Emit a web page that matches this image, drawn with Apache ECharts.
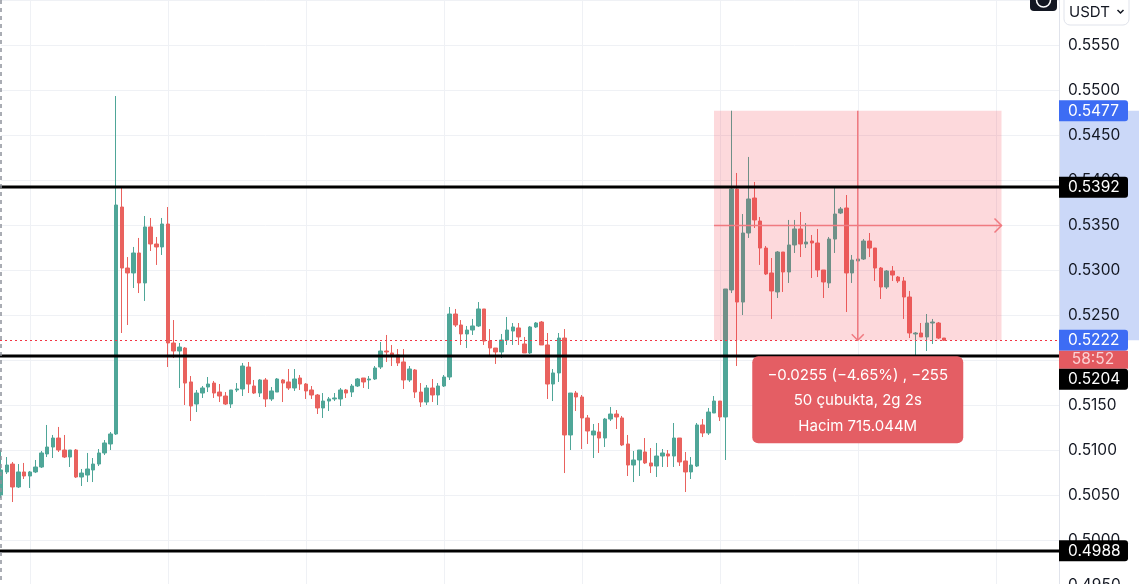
<!DOCTYPE html>
<html><head><meta charset="utf-8">
<script src="https://cdn.jsdelivr.net/npm/echarts/dist/echarts.min.js"></script>
<style>html,body{margin:0;padding:0;background:#fff;overflow:hidden}#c{width:1140px;height:584px}</style>
</head><body><div id="c"></div>
<script>
// ---- data (1h candles) ----
const opens = [0.5050,0.50756,0.50844,0.50589,0.50756,0.50711,0.50756,0.50811,0.50956,0.51033,0.51133,0.51,0.50922,0.51,0.507,0.50722,0.50778,0.50844,0.50967,0.51067,0.51178,0.537,0.53022,0.52967,0.53189,0.52856,0.53478,0.53289,0.53256,0.53511,0.52189,0.521,0.52133,0.51756,0.51511,0.51633,0.517,0.51744,0.51644,0.516,0.51511,0.51667,0.51678,0.51922,0.51711,0.51633,0.51778,0.51567,0.51644,0.51778,0.51756,0.51689,0.518,0.51733,0.51667,0.51611,0.51467,0.51544,0.51567,0.51567,0.51667,0.51644,0.51711,0.518,0.51778,0.51789,0.51922,0.521,0.52078,0.52056,0.51978,0.51778,0.51889,0.51644,0.51533,0.51689,0.51611,0.51711,0.51811,0.52511,0.52389,0.52289,0.52333,0.52378,0.52567,0.52211,0.52133,0.52089,0.52222,0.52322,0.52356,0.52178,0.52078,0.52367,0.52422,0.52167,0.51733,0.51856,0.52244,0.51167,0.51633,0.51589,0.51356,0.51167,0.512,0.51133,0.51344,0.514,0.51356,0.51067,0.50833,0.50889,0.50978,0.50856,0.50822,0.50933,0.50956,0.50933,0.51133,0.50878,0.50756,0.50822,0.51278,0.51189,0.51411,0.51544,0.51367,0.52778,0.539,0.52644,0.53411,0.538,0.53544,0.53244,0.52967,0.52756,0.532,0.52978,0.53278,0.53456,0.53289,0.53322,0.533,0.53,0.52856,0.53344,0.53633,0.53689,0.52967,0.531,0.53122,0.53322,0.53244,0.53022,0.52811,0.52989,0.52922,0.52878,0.527,0.52289,0.523,0.52256,0.52411,0.52411,0.52244];
const closes = [0.50778,0.50833,0.50589,0.50756,0.50711,0.50756,0.50811,0.50967,0.51033,0.51133,0.51,0.50922,0.51,0.507,0.50744,0.50789,0.50844,0.50967,0.51078,0.51178,0.53722,0.53022,0.52967,0.53189,0.52856,0.53478,0.53289,0.53256,0.53511,0.52189,0.521,0.52144,0.51744,0.51489,0.51633,0.51689,0.51733,0.51633,0.516,0.51511,0.51667,0.51678,0.51933,0.51733,0.51633,0.51778,0.51567,0.51656,0.51789,0.51744,0.51689,0.51789,0.51733,0.51656,0.51611,0.51467,0.51544,0.51567,0.51578,0.51667,0.51633,0.51711,0.51789,0.51756,0.51789,0.51911,0.521,0.52089,0.52056,0.51967,0.51778,0.519,0.51644,0.51533,0.51689,0.51611,0.51711,0.51811,0.52511,0.52389,0.52289,0.52333,0.52378,0.52567,0.52211,0.52133,0.52089,0.52222,0.52333,0.52367,0.52256,0.52078,0.52367,0.52411,0.52167,0.51733,0.51856,0.52244,0.51167,0.51633,0.51589,0.51356,0.51211,0.51211,0.51133,0.51344,0.514,0.51367,0.51056,0.50833,0.50889,0.51,0.50856,0.50822,0.50933,0.50967,0.50933,0.51133,0.50867,0.50756,0.50833,0.51278,0.51189,0.51422,0.51544,0.51367,0.52789,0.539,0.52644,0.53411,0.53789,0.53556,0.53244,0.52956,0.52767,0.532,0.52978,0.53278,0.53456,0.53289,0.53311,0.533,0.53,0.52867,0.53344,0.53622,0.53678,0.52967,0.53111,0.53122,0.53322,0.53244,0.53022,0.52811,0.52989,0.52944,0.52878,0.527,0.523,0.523,0.52256,0.52411,0.52422,0.52244,0.5222];
const lows = [0.50467,0.50733,0.50422,0.50578,0.50678,0.50578,0.50744,0.508,0.50922,0.50911,0.50978,0.50911,0.50811,0.50689,0.506,0.50644,0.50644,0.50822,0.50944,0.51,0.51167,0.523,0.52389,0.528,0.52744,0.52656,0.53211,0.53056,0.53167,0.51922,0.52022,0.51689,0.515,0.51322,0.51422,0.51578,0.51644,0.51578,0.51533,0.515,0.51467,0.51644,0.516,0.51633,0.51622,0.51589,0.51478,0.51544,0.51644,0.51533,0.51667,0.51656,0.51667,0.51567,0.51567,0.514,0.51356,0.51433,0.51544,0.51489,0.51578,0.51589,0.517,0.51689,0.51678,0.51778,0.519,0.51978,0.51933,0.51933,0.51678,0.51756,0.51578,0.51478,0.515,0.51533,0.515,0.517,0.51778,0.52367,0.52167,0.52133,0.52278,0.52367,0.52167,0.52044,0.51956,0.52022,0.52167,0.52167,0.52167,0.52078,0.52067,0.52356,0.52167,0.51567,0.51544,0.51756,0.50744,0.51,0.51433,0.51011,0.51067,0.50911,0.50967,0.51033,0.51322,0.51233,0.51044,0.50711,0.50644,0.50711,0.50844,0.50744,0.507,0.50811,0.50811,0.50811,0.50822,0.50533,0.50678,0.50811,0.51144,0.51167,0.51411,0.51322,0.50889,0.52744,0.51933,0.525,0.53356,0.53467,0.53056,0.52944,0.52456,0.52689,0.52756,0.52856,0.53189,0.53144,0.53244,0.52911,0.52922,0.52689,0.528,0.53189,0.53622,0.52533,0.52856,0.53089,0.53111,0.53144,0.52878,0.52678,0.52789,0.52878,0.52856,0.52456,0.52244,0.52056,0.52256,0.521,0.52178,0.52233,0.52211];
const highs = [0.51,0.50922,0.50867,0.50844,0.50856,0.50767,0.50889,0.50989,0.51278,0.51167,0.51256,0.51167,0.51,0.51011,0.50789,0.50967,0.50911,0.51011,0.51111,0.512,0.54933,0.53922,0.53144,0.53256,0.53356,0.536,0.53578,0.53367,0.53578,0.537,0.52444,0.52189,0.52144,0.51822,0.51667,0.51711,0.51811,0.51767,0.51733,0.51644,0.51667,0.51744,0.51967,0.51978,0.51778,0.51789,0.518,0.517,0.518,0.51789,0.519,0.519,0.51833,0.51744,0.51711,0.51622,0.51633,0.51589,0.51633,0.51689,0.51678,0.51733,0.518,0.518,0.51822,0.51933,0.522,0.52278,0.52167,0.52122,0.52122,0.51933,0.519,0.51744,0.51722,0.51789,0.51744,0.51833,0.52589,0.52567,0.52444,0.52378,0.52456,0.52644,0.52567,0.52344,0.52133,0.52289,0.52478,0.52411,0.52411,0.52256,0.52378,0.52422,0.52433,0.523,0.519,0.523,0.52344,0.51633,0.51656,0.51611,0.51389,0.51289,0.513,0.51356,0.51478,0.51444,0.51378,0.51167,0.50989,0.51,0.51133,0.51022,0.51078,0.51011,0.51,0.513,0.51133,0.50978,0.50922,0.513,0.51344,0.51467,0.516,0.51544,0.52789,0.5477,0.54078,0.53622,0.54256,0.53978,0.53589,0.53267,0.53133,0.53211,0.532,0.53556,0.53556,0.53644,0.53522,0.53389,0.53456,0.53,0.53367,0.53933,0.537,0.53833,0.53167,0.53278,0.53344,0.53411,0.53244,0.53033,0.53,0.53044,0.52933,0.52922,0.52767,0.52311,0.52411,0.52511,0.52456,0.52422,0.52244];

const slotCount = 185;                 // hourly slots on the time axis (incl. empty future)
const categories = [];
for (let i = 0; i < slotCount; i++) categories.push('H' + i);

const levelPrices = [0.5392, 0.5204, 0.4988];
const lastPrice = 0.5222;
const countdown = '58:52';
const measureBars = [124, 149, 174];   // start, crosshair, end bar index
const measurePrices = [0.5477, 0.5222]; // top, bottom
const measureText = ['\u22120.0255 (\u22124.65%) , \u2212255', '50 \u00e7ubukta, 2g 2s', 'Hacim 715.044M'];
const tagPrices = [0.5477, 0.5392, 0.5222, 0.5204, 0.4988];
const tagTexts  = ['0.5477', '0.5392', '0.5222', '0.5204', '0.4988'];
const tagKinds  = ['measure', 'level', 'last', 'level', 'level'];
const yTickMin = 0.495, yTickMax = 0.56, yTickStep = 0.005;

// ---- chart ----
const UP = '#4fa698', DOWN = '#e9625e';
const FONT = 'Inter';
const chart = echarts.init(document.getElementById('c'));
const candleData = opens.map((o, i) => [o, closes[i], lows[i], highs[i]]);

const option = {
  animation: false,
  backgroundColor: '#ffffff',
  grid: { left: 1, top: 0, width: 1058, height: 585, containLabel: false, outerBoundsMode: 'none' },
  xAxis: {
    type: 'category', data: categories, boundaryGap: false,
    axisLine: { show: false }, axisTick: { show: false }, axisLabel: { show: false },
    splitLine: { show: true, interval: (idx) => idx >= 5 && (idx - 5) % 24 === 0, lineStyle: { color: '#eff1f5', width: 1 } }
  },
  yAxis: {
    type: 'value', position: 'right', min: yTickMin, max: yTickMax, interval: yTickStep,
    axisLine: { show: true, lineStyle: { color: '#e0e3eb', width: 1 } },
    axisTick: { show: false },
    axisLabel: { formatter: v => v.toFixed(4), color: '#131722', fontFamily: FONT, fontSize: 15.5, margin: 9, showMaxLabel: false },
    splitLine: { show: true, lineStyle: { color: '#eff1f5', width: 1 } }
  },
  series: [
    { // blue band on the price scale
      type: 'custom', z: -1, silent: true, clip: false, data: [[0, 0]],
      renderItem: (params, api) => {
        const cs = params.coordSys;
        const yTop = api.coord([0, measurePrices[0]])[1];
        const yBot = api.coord([0, measurePrices[1]])[1];
        return { type: 'rect', shape: { x: cs.x + cs.width, y: yTop, width: 80, height: yBot - yTop }, style: { fill: '#cbd8f8' } };
      }
    },
    {
      type: 'candlestick', z: 2, data: candleData, barWidth: 4, clip: false,
      itemStyle: { color: UP, color0: DOWN, borderColor: UP, borderColor0: DOWN, borderWidth: 1 }
    },
    { // measurement box
      type: 'custom', z: 3, silent: true, clip: false, data: [[0, 0]],
      renderItem: (params, api) => {
        const a = api.coord([measureBars[0], measurePrices[0]]);
        const b = api.coord([measureBars[2], measurePrices[1]]);
        const cx = api.coord([measureBars[1], measurePrices[0]])[0];
        const my = api.coord([0, (measurePrices[0] + measurePrices[1]) / 2])[1];
        const ln = '#f07a80';
        return { type: 'group', children: [
          { type: 'rect', shape: { x: a[0], y: a[1], width: b[0] - a[0], height: b[1] - a[1] }, style: { fill: 'rgba(242,54,69,0.19)' } },
          { type: 'line', shape: { x1: a[0], y1: my, x2: b[0], y2: my }, style: { stroke: ln, lineWidth: 1.5 } },
          { type: 'line', shape: { x1: cx, y1: a[1], x2: cx, y2: b[1] }, style: { stroke: ln, lineWidth: 1.5 } },
          { type: 'polyline', shape: { points: [[b[0] - 7, my - 7], [b[0], my], [b[0] - 7, my + 7]] }, style: { stroke: ln, lineWidth: 1.5, fill: null } },
          { type: 'polyline', shape: { points: [[cx - 6, b[1] - 6], [cx, b[1]], [cx + 6, b[1] - 6]] }, style: { stroke: ln, lineWidth: 1.5, fill: null } }
        ] };
      }
    },
    { // horizontal levels + last price dotted line
      type: 'custom', z: 4, silent: true, clip: false, data: [[0, 0]],
      renderItem: (params, api) => {
        const cs = params.coordSys;
        const kids = levelPrices.map(p => {
          const y = Math.round(api.coord([0, p])[1]);
          return { type: 'line', shape: { x1: 0, y1: y, x2: cs.x + cs.width, y2: y }, style: { stroke: '#000', lineWidth: 3 } };
        });
        const ly = Math.round(api.coord([0, lastPrice])[1]) + 0.5;
        kids.unshift({ type: 'line', shape: { x1: 0, y1: ly, x2: cs.x + cs.width, y2: ly }, style: { stroke: '#f23645', lineWidth: 1.2, lineDash: [2, 3] } });
        return { type: 'group', children: kids };
      }
    },
    { // price tags on the scale
      type: 'custom', z: 5, silent: true, clip: false, data: [[0, 0]],
      renderItem: (params, api) => {
        const cs = params.coordSys;
        const x0 = cs.x + cs.width;
        const fills = { measure: '#3d6cf4', level: '#000000', last: '#3d6cf4' };
        const tags = tagPrices.map((p, i) => ({ y: api.coord([0, p])[1], text: tagTexts[i], kind: tagKinds[i] }))
          .sort((m, n) => m.y - n.y);
        const kids = [];
        let prevBottom = -1e9;
        tags.forEach(t => {
          let top = t.y - 10.5;
          if (top < prevBottom) top = prevBottom;
          kids.push({ type: 'rect', shape: { x: x0, y: top, width: 69, height: 21, r: [0, 3, 3, 0] }, style: { fill: fills[t.kind] } });
          kids.push({ type: 'text', style: { text: t.text, x: x0 + 9, y: top + 11, fill: '#ffffff', fontFamily: FONT, fontSize: 15.5, verticalAlign: 'middle', align: 'left' } });
          prevBottom = top + 21;
          if (t.kind === 'last') {
            kids.push({ type: 'rect', shape: { x: x0, y: prevBottom, width: 69, height: 18 }, style: { fill: '#e35a60' } });
            kids.push({ type: 'text', style: { text: countdown, x: x0 + 34, y: prevBottom + 9, fill: '#fbd0d2', fontFamily: FONT, fontSize: 15.5, verticalAlign: 'middle', align: 'center' } });
            prevBottom += 18;
          }
        });
        return { type: 'group', children: kids };
      }
    },
    { // measurement info box
      type: 'custom', z: 6, silent: true, clip: false, data: [[0, 0]],
      renderItem: (params, api) => {
        const cx = api.coord([measureBars[1], measurePrices[1]]);
        const top = cx[1] + 16;
        const w = 211, h = 87;
        const kids = [{ type: 'rect', shape: { x: cx[0] - w / 2, y: top, width: w, height: h, r: 6 }, style: { fill: '#e45e64' } }];
        measureText.forEach((t, i) => {
          kids.push({ type: 'text', style: { text: t, x: cx[0], y: top + 19 + i * 25.5, fill: '#ffffff', fontFamily: FONT, fontSize: 15, align: 'center', verticalAlign: 'middle' } });
        });
        return { type: 'group', children: kids };
      }
    }
  ],
  graphic: [
    { type: 'line', z: 10, shape: { x1: 1, y1: 0, x2: 1, y2: 584 }, style: { stroke: '#8f939c', lineWidth: 1.5, lineDash: [4, 4] } },
    { type: 'rect', z: 10, shape: { x: 1030, y: -6, width: 27, height: 17, r: 4 }, style: { fill: '#131722' } },
    { type: 'circle', z: 11, shape: { cx: 1043.5, cy: 0, r: 7 }, style: { stroke: '#ffffff', lineWidth: 1.5, fill: null } },
    { type: 'rect', z: 10, shape: { x: 1064, y: -6, width: 65, height: 31, r: 6 }, style: { fill: '#ffffff', stroke: '#e0e3eb', lineWidth: 1 } },
    { type: 'text', z: 11, style: { text: 'USDT', x: 1069, y: 12, fill: '#131722', fontFamily: FONT, fontSize: 15, verticalAlign: 'middle' } },
    { type: 'polyline', z: 11, shape: { points: [[1117.5, 10], [1120.5, 13], [1123.5, 10]] }, style: { stroke: '#131722', lineWidth: 1.5, fill: null } }
  ]
};
chart.setOption(option);
</script>
</body></html>
